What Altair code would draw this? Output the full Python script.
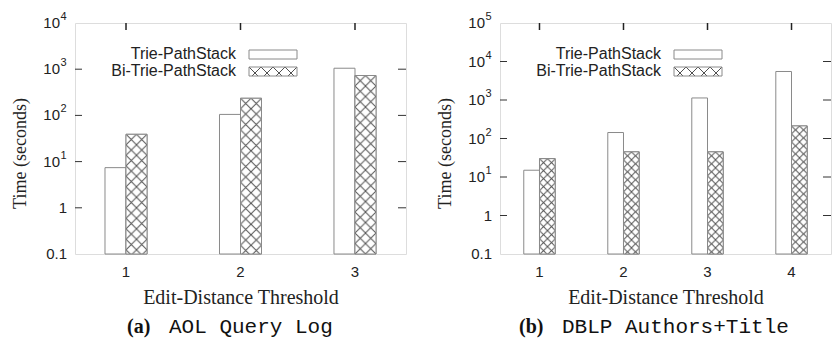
import altair as alt
import pandas as pd
from urllib.parse import quote

# ---------------- data ----------------
series_names = ["Trie-PathStack", "Bi-Trie-PathStack"]

thresholds_a = [1, 2, 3]
trie_a = [7.4, 105, 1050]
bi_a = [39, 235, 730]

thresholds_b = [1, 2, 3, 4]
trie_b = [15, 143, 1130, 5500]
bi_b = [30, 45, 45, 212]

ticks_a = [0.1, 1, 10, 100, 1000, 10000]
ticks_b = [0.1, 1, 10, 100, 1000, 10000, 100000]

x_title = "Edit-Distance Threshold"
y_title = "Time (seconds)"
caption_a = ("(a)", "AOL Query Log")
caption_b = ("(b)", "DBLP Authors+Title")

W, H = 331, 231
FONT_SANS = "Liberation Sans"
FONT_SERIF = "Liberation Serif"
FONT_MONO = "Liberation Mono"
BAR_STROKE = "#8a8a8a"
HATCH = "#505050"
TXT = "#222222"


def hatch_url(p):
    svg = (
        "<svg xmlns='http://www.w3.org/2000/svg'>"
        f"<defs><pattern id='h' width='{p}' height='{p}' patternUnits='userSpaceOnUse'>"
        f"<path d='M0,0L{p},{p}M{p},0L0,{p}' stroke='{HATCH}' stroke-width='1' fill='none'/>"
        "</pattern></defs>"
        "<rect width='100%' height='100%' fill='white'/>"
        "<rect width='100%' height='100%' fill='url(#h)'/>"
        "</svg>"
    )
    return "data:image/svg+xml;charset=utf-8," + quote(svg)


def panel(thresholds, trie, bi, yticks, caption, pad_inner, pad_outer, cell):
    rows = []
    for t, a, b in zip(thresholds, trie, bi):
        rows.append({"threshold": t, "series": series_names[0], "value": a})
        rows.append({"threshold": t, "series": series_names[1], "value": b})
    df = pd.DataFrame(rows)
    ymax = yticks[-1]

    x = alt.X("threshold:O", title=x_title,
              scale=alt.Scale(paddingInner=pad_inner, paddingOuter=pad_outer),
              axis=alt.Axis(labelAngle=0, ticks=False, domain=False, grid=False,
                            labelFont=FONT_SANS, labelFontSize=15, labelColor=TXT,
                            labelPadding=10, titleFont=FONT_SERIF, titleFontSize=20,
                            titleFontWeight="normal", titleColor=TXT, titlePadding=8))
    xo = alt.XOffset("series:N", sort=series_names,
                     scale=alt.Scale(domain=series_names, paddingInner=0, paddingOuter=0))
    y = alt.Y("value:Q", title=y_title,
              scale=alt.Scale(type="log", domain=[0.1, ymax], nice=False),
              axis=alt.Axis(values=yticks, labels=False, ticks=False, domain=False,
                            grid=False,
                            titleFont=FONT_SERIF, titleFontSize=18, titleFontWeight="normal",
                            titleColor=TXT, titleX=-46, titleY=130))
    y2 = alt.datum(0.1)

    base = alt.Chart(df)
    bars = base.mark_bar(fill="white", stroke=BAR_STROKE, strokeWidth=1).encode(
        x=x, xOffset=xo, y=y, y2=y2)
    hatch = base.transform_filter(alt.datum.series == series_names[1]).mark_image(
        url=hatch_url(cell), aspect=False).encode(x=x, xOffset=xo, y=y, y2=y2)
    outline = base.transform_filter(alt.datum.series == series_names[1]).mark_bar(
        fill="white", fillOpacity=0, stroke=BAR_STROKE, strokeWidth=1).encode(
        x=x, xOffset=xo, y=y, y2=y2)

    # y tick labels with real superscripts
    ldf = pd.DataFrame({"v": yticks})
    lab = alt.Chart(ldf).transform_calculate(
        base="datum.v < 0.5 ? '0.1' : datum.v < 5 ? '1' : '10'",
        ex="datum.v < 5 ? '' : toString(round(log(datum.v)/LN10))")
    plain = lab.transform_filter("datum.v < 5").mark_text(
        align="right", baseline="middle", font=FONT_SANS, fontSize=15, color=TXT).encode(
        text="base:N", y=alt.Y("v:Q"), x=alt.value(-8))
    tens = lab.transform_filter("datum.v >= 5").mark_text(
        align="right", baseline="middle", font=FONT_SANS, fontSize=15, color=TXT).encode(
        text="base:N", y=alt.Y("v:Q"), x=alt.value(-15))
    exps = lab.transform_filter("datum.v >= 5").mark_text(
        align="left", baseline="middle", font=FONT_SANS, fontSize=11, color=TXT, dy=-6,
        dx=0.5).encode(text="ex:N", y=alt.Y("v:Q"), x=alt.value(-15))

    inner = [v for v in yticks[1:-1]]
    tdf = pd.DataFrame({"v": inner})
    lticks = alt.Chart(tdf).mark_rule(color="#333").encode(
        y=alt.Y("v:Q"), x=alt.value(0), x2=alt.value(7))
    rticks = alt.Chart(tdf).mark_rule(color="#333").encode(
        y=alt.Y("v:Q"), x=alt.value(W - 8), x2=alt.value(W))
    xdf = pd.DataFrame({"threshold": thresholds})
    tticks = alt.Chart(xdf).mark_rule(color="#222", strokeWidth=1.5).encode(
        x=alt.X("threshold:O", bandPosition=0.5), y=alt.value(0), y2=alt.value(7))

    # legend (inside plot, gnuplot style)
    leg1 = alt.Chart(pd.DataFrame({"t": [series_names[0]]})).mark_text(
        align="right", baseline="middle", font=FONT_SANS, fontSize=16, color=TXT).encode(
        text="t:N", x=alt.value(161), y=alt.value(31))
    leg2 = alt.Chart(pd.DataFrame({"t": [series_names[1]]})).mark_text(
        align="right", baseline="middle", font=FONT_SANS, fontSize=16, color=TXT).encode(
        text="t:N", x=alt.value(161), y=alt.value(48))
    box1 = alt.Chart(pd.DataFrame({"t": [0]})).mark_rect(
        fill="white", stroke=BAR_STROKE, strokeWidth=1).encode(
        x=alt.value(174), x2=alt.value(222), y=alt.value(27), y2=alt.value(36))
    box2img = alt.Chart(pd.DataFrame({"t": [0]})).mark_image(
        url=hatch_url(12), aspect=False, align="left", baseline="top",
        width=48, height=9).encode(x=alt.value(174), y=alt.value(44))
    box2 = alt.Chart(pd.DataFrame({"t": [0]})).mark_rect(
        fill="white", fillOpacity=0, stroke=BAR_STROKE, strokeWidth=1).encode(
        x=alt.value(174), x2=alt.value(222), y=alt.value(44), y2=alt.value(53))

    cap1 = alt.Chart(pd.DataFrame({"t": [caption[0]]})).mark_text(
        align="left", baseline="middle", font=FONT_SERIF, fontSize=20, fontWeight="bold",
        color="#111").encode(text="t:N", x=alt.value(caption[2]), y=alt.value(304))
    cap2 = alt.Chart(pd.DataFrame({"t": [caption[1]]})).mark_text(
        align="left", baseline="middle", font=FONT_MONO, fontSize=21, color="#111").encode(
        text="t:N", x=alt.value(caption[3]), y=alt.value(304))

    return alt.layer(bars, hatch, outline, lticks, rticks, tticks, plain, tens, exps,
                     leg1, leg2, box1, box2img, box2, cap1, cap2).properties(width=W, height=H)


left = panel(thresholds_a, trie_a, bi_a, ticks_a,
             (caption_a[0], caption_a[1], 52, 94), 0.633, 0.262, 10.5)
right = panel(thresholds_b, trie_b, bi_b, ticks_b,
              (caption_b[0], caption_b[1], 19, 62), 0.626, 0.283, 8)

chart = alt.hconcat(left, right, spacing=94, bounds="flush").resolve_scale(
    x="independent", y="independent", xOffset="independent"
).properties(
    padding={"left": 10, "top": 10, "right": 0, "bottom": 0}
).configure_view(stroke="#333", strokeWidth=1).configure(background="white")

chart.save("out.html", embed_options={"renderer": "svg", "actions": False})
